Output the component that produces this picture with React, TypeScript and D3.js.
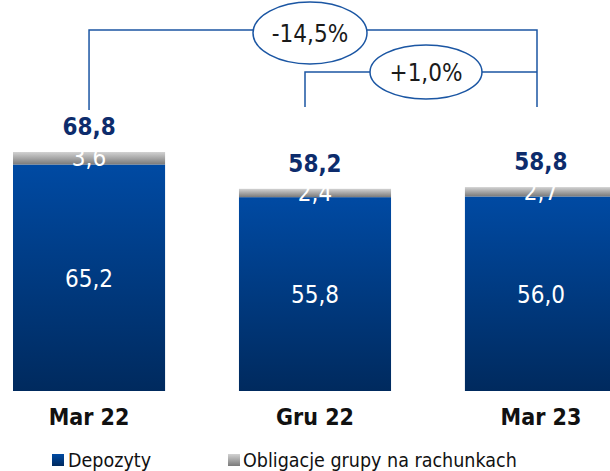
import React from 'react';
import * as d3 from 'd3';

const categories = ['Mar 22', 'Gru 22', 'Mar 23'];
const deposits = [65.2, 55.8, 56.0];
const bonds = [3.6, 2.4, 2.7];
const totals = [68.8, 58.2, 58.8];
const depositLabels = ['65,2', '55,8', '56,0'];
const bondLabels = ['3,6', '2,4', '2,7'];
const totalLabels = ['68,8', '58,2', '58,8'];
const changes = ['-14,5%', '+1,0%'];
const legendNames = ['Depozyty', 'Obligacje grupy na rachunkach'];

const W = 610;
const H = 471;
const FONT = '"DejaVu Sans Condensed", "DejaVu Sans", sans-serif';

const App = () => {
  const x = d3.scaleBand().domain(categories).range([13, 617]).paddingInner(0.327).paddingOuter(0);
  const y = d3.scaleLinear().domain([0, 68.8]).range([391, 152]);
  const bw = x.bandwidth();
  const cx = (i: number) => (x(categories[i]) as number) + bw / 2;

  // bracket lines for the change annotations
  const lineColor = '#1b56a3';

  return (
    <svg width={W} height={H} style={{ position: 'absolute', left: 0, top: 0, background: '#fff' }}>
      <defs>
        <linearGradient id="blueGrad" x1="0" y1="0" x2="0" y2="1">
          <stop offset="0%" stopColor="#004aa3" />
          <stop offset="100%" stopColor="#002a5e" />
        </linearGradient>
        <linearGradient id="grayGrad" x1="0" y1="0" x2="0" y2="1">
          <stop offset="0%" stopColor="#d2d2d2" />
          <stop offset="100%" stopColor="#7a7a7a" />
        </linearGradient>
      </defs>

      {categories.map((c, i) => {
        const x0 = x(c) as number;
        const yDepTop = y(deposits[i]);
        const yTop = y(deposits[i] + bonds[i]);
        return (
          <g key={c}>
            <rect x={x0} y={yDepTop} width={bw} height={y(0) - yDepTop} fill="url(#blueGrad)" />
            <rect x={x0} y={yTop} width={bw} height={yDepTop - yTop} fill="url(#grayGrad)" />
            <text x={cx(i)} y={(yDepTop + y(0)) / 2 + 9} textAnchor="middle" fill="#fff"
              style={{ fontFamily: FONT, fontSize: 24 }}>{depositLabels[i]}</text>
            <text x={cx(i)} y={(yTop + yDepTop) / 2 + 8} textAnchor="middle" fill="#fff"
              style={{ fontFamily: FONT, fontSize: 24 }}>{bondLabels[i]}</text>
            <text x={cx(i)} y={y(totals[i]) - 17} textAnchor="middle" fill="#0d2c6c"
              style={{ fontFamily: FONT, fontSize: 24, fontWeight: 'bold' }}>{totalLabels[i]}</text>
            <text x={cx(i)} y={425} textAnchor="middle" fill="#111"
              style={{ fontFamily: FONT, fontSize: 23, fontWeight: 'bold' }}>{c}</text>
          </g>
        );
      })}

      {/* change brackets */}
      <path d={`M${cx(0)},110 V30 H537 V107`} fill="none" stroke={lineColor} strokeWidth={1.5} />
      <path d={`M305,107 V72 H537`} fill="none" stroke={lineColor} strokeWidth={1.5} />
      <ellipse cx={310} cy={33} rx={57} ry={31} fill="#fff" stroke={lineColor} strokeWidth={1.5} />
      <text x={310} y={42} textAnchor="middle" fill="#1a1a1a" style={{ fontFamily: FONT, fontSize: 24 }}>{changes[0]}</text>
      <ellipse cx={426} cy={72} rx={56} ry={27} fill="#fff" stroke={lineColor} strokeWidth={1.5} />
      <text x={426} y={81} textAnchor="middle" fill="#1a1a1a" style={{ fontFamily: FONT, fontSize: 24 }}>{changes[1]}</text>

      {/* legend */}
      <rect x={52} y={454} width={12} height={12} fill="url(#blueGrad)" />
      <text x={68} y={467} fill="#111" style={{ fontFamily: FONT, fontSize: 19.5 }}>{legendNames[0]}</text>
      <rect x={228} y={454} width={12} height={12} fill="url(#grayGrad)" />
      <text x={243} y={467} fill="#111" style={{ fontFamily: FONT, fontSize: 19.5 }}>{legendNames[1]}</text>
    </svg>
  );
};

export default App;
